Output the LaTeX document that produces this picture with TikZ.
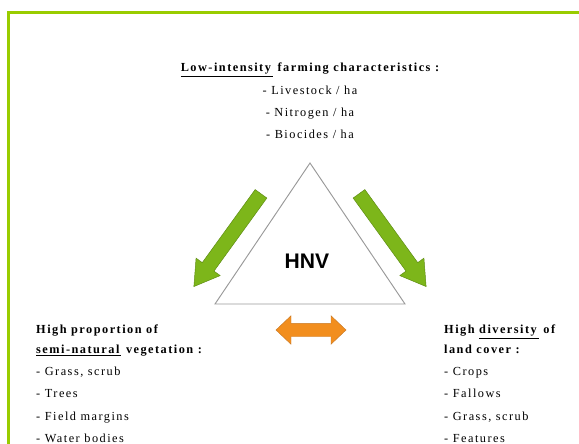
\documentclass[tikz,border=0pt]{standalone}
\usepackage{fontspec}
\setmainfont{Liberation Serif}[LetterSpace=12]
\newfontfamily\hnvfont{Liberation Sans}
\usetikzlibrary{arrows.meta, positioning, shapes.arrows}
\definecolor{framegreen}{HTML}{99CC00}
\definecolor{leafgreen}{HTML}{7DB61A}
\definecolor{leafdark}{HTML}{5C8A12}
\definecolor{linkorange}{HTML}{F28E1E}
\definecolor{linkdark}{HTML}{C97A28}

\begin{document}
\begin{tikzpicture}[x=0.03cm, y=-0.03cm,
    % text styles
    ittext/.style={inner sep=0pt, font=\fontsize{10.5}{12}\selectfont, text height=7pt, text depth=2.5pt},
    hdtext/.style={ittext, font=\fontsize{10.5}{12}\selectfont\bfseries},
    % block arrows
    garrow/.style={single arrow, draw=leafdark, fill=leafgreen, thin, inner xsep=0pt, inner ysep=0.21cm,
        minimum width=0.88cm, single arrow head extend=0.23cm, single arrow tip angle=63, minimum height=3.435cm},
    oarrow/.style={double arrow, draw=linkdark, fill=linkorange, thin, inner xsep=0pt, inner ysep=0.195cm,
        minimum width=0.84cm, double arrow head extend=0.225cm, double arrow tip angle=87, minimum height=2.1cm},
    tri/.style={draw=black!40, fill=white, line width=0.8pt}]

\useasboundingbox (0,0) rectangle (579,444);

% Frame
\draw[framegreen, line width=0.08cm] (8.7,12.2) rectangle (640,500);

% Top: farming characteristics
\node[hdtext] (lowint) at (310,69) {\underline{Low-intensity\,} farming characteristics :};
\node[ittext, below=3.25mm of lowint] (live) {- Livestock / ha};
\node[ittext, below=3.25mm of live] (nitro) {- Nitrogen / ha};
\node[ittext, below=3.25mm of nitro] (bioc) {- Biocides / ha};

% Triangle
\coordinate (apex) at (310,163);
\coordinate (tl) at (215,304);
\coordinate (tr) at (405,304);
\draw[tri] (apex) -- (tl) -- (tr) -- cycle;
\node[font=\hnvfont\bfseries\fontsize{18}{20}\selectfont] (hnv) at (307,261) {HNV};

% Arrows
\node[garrow, rotate=234.1] (arrowL) at (230.9,235.4) {};
\node[garrow, rotate=305.9] (arrowR) at (389.1,235.4) {};
\node[oarrow] (arrowLR) at (311,330) {};

% Left: semi-natural vegetation
\node[hdtext, anchor=west] (semi1) at (36,331) {High proportion of};
\node[hdtext, below right=2.35mm and 0mm of semi1.south west] (semi2) {\underline{semi-natural\,} vegetation :};
\node[ittext, below right=3.25mm and 0mm of semi2.south west] (grassL) {- Grass, scrub};
\node[ittext, below right=3.25mm and 0mm of grassL.south west] (trees) {- Trees};
\node[ittext, below right=3.25mm and 0mm of trees.south west] (margins) {- Field margins};
\node[ittext, below right=3.25mm and 0mm of margins.south west] (water) {- Water bodies};

% Right: land cover diversity
\node[hdtext, anchor=west] (div1) at (444,331) {High \underline{diversity\,} of};
\node[hdtext, below right=2.35mm and 0mm of div1.south west] (div2) {land cover :};
\node[ittext, below right=3.25mm and 0mm of div2.south west] (crops) {- Crops};
\node[ittext, below right=3.25mm and 0mm of crops.south west] (fallows) {- Fallows};
\node[ittext, below right=3.25mm and 0mm of fallows.south west] (grassR) {- Grass, scrub};
\node[ittext, below right=3.25mm and 0mm of grassR.south west] (feat) {- Features};

\end{tikzpicture}
\end{document}
